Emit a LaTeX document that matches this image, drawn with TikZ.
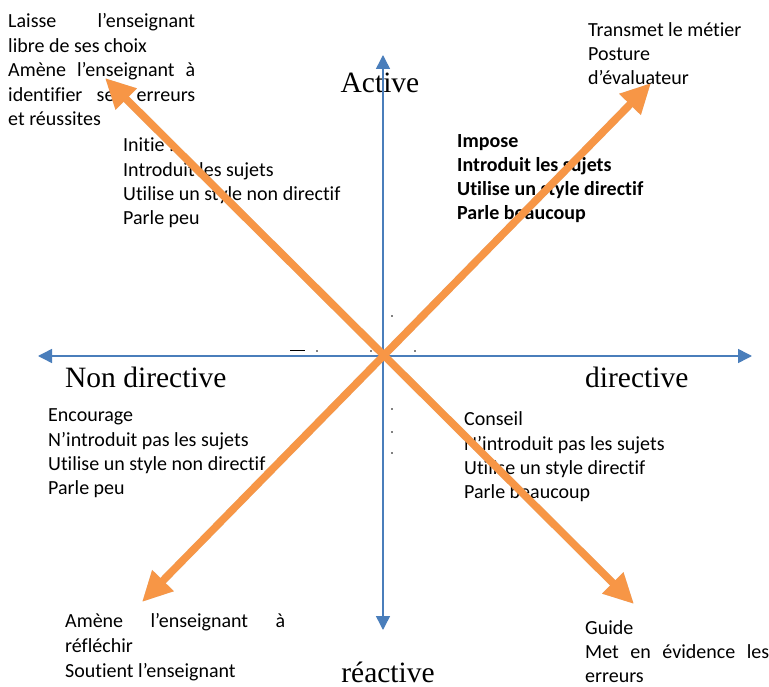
\documentclass[tikz,border=0pt]{standalone}
\usepackage{fontspec}
\setmainfont{Carlito}[Ligatures={NoCommon}]
\newfontfamily\axisfont{Liberation Serif}
\usetikzlibrary{arrows.meta}
\definecolor{axisblue}{HTML}{4A7EBB}
\definecolor{orng}{HTML}{F79646}
\newcommand\just[2]{\makebox[#1pt][s]{#2}}
\begin{document}
\begin{tikzpicture}[x=1pt,y=-1pt,
  txt/.style={anchor=base west,inner sep=0pt,font=\fontsize{20}{24}\selectfont},
  btxt/.style={txt,font=\fontsize{20}{24}\selectfont\bfseries},
  axlab/.style={inner sep=0pt,font=\fontsize{29.5}{32}\selectfont\axisfont},
  axis/.style={draw=axisblue,line width=1.5pt,{Triangle[length=14pt,width=14pt]}-{Triangle[length=14pt,width=14pt]}},
  bigarrow/.style={draw=orng,line width=7.5pt,{Triangle[length=30pt,width=28pt]}-{Triangle[length=30pt,width=28pt]}},
  shade/.style={draw=black!45,opacity=0.35,line width=7.5pt,{Triangle[length=30pt,width=28pt]}-{Triangle[length=30pt,width=28pt]},xshift=2pt,yshift=-2pt},
  speck/.style={fill=black,inner sep=0pt,minimum size=1.6pt,circle}
]
\useasboundingbox (0,0) rectangle (769,687);
\fill[white] (0,0) rectangle (769,687);

% top-left
\node[txt] (tl1) at (8,28) {\just{187}{Laisse l’enseignant}};
\node[txt] (tl2) at (8,52.5) {libre de ses choix};
\node[txt] (tl3) at (8,77) {\just{187}{Amène l’enseignant à}};
\node[txt] (tl4) at (8,101.5) {\just{187}{identifier ses erreurs}};
\node[txt] (tl5) at (8,126) {et réussites};

% top-right
\node[txt] (tr1) at (588,37) {Transmet le métier};
\node[txt] (tr2) at (588,61) {Posture};
\node[txt] (tr3) at (588,85) {d’évaluateur};

% upper-left quadrant
\node[txt] (ql1) at (123,152) {Initie :};
\node[txt] (ql2) at (123,177) {Introduit les sujets};
\node[txt] (ql3) at (123,201) {Utilise un style non directif};
\node[txt] (ql4) at (123,225) {Parle peu};

% upper-right quadrant
\node[btxt] (qr1) at (457,148) {Impose};
\node[btxt] (qr2) at (457,172) {Introduit les sujets};
\node[btxt] (qr3) at (457,196) {Utilise un style directif};
\node[btxt] (qr4) at (457,220) {Parle beaucoup};

% lower-left quadrant
\node[txt] (ll1) at (48,421) {Encourage};
\node[txt] (ll2) at (48,446) {N’introduit pas les sujets};
\node[txt] (ll3) at (48,470) {Utilise un style non directif};
\node[txt] (ll4) at (48,494) {Parle peu};

% lower-right quadrant
\node[txt] (lr1) at (464,425) {Conseil};
\node[txt] (lr2) at (464,450) {N’introduit pas les sujets};
\node[txt] (lr3) at (464,474) {Utilise un style directif};
\node[txt] (lr4) at (464,498) {Parle beaucoup};

% bottom-left
\node[txt] (bl1) at (65,627) {\just{220}{Amène l’enseignant à}};
\node[txt] (bl2) at (65,652) {réfléchir};
\node[txt] (bl3) at (65,677) {Soutient l’enseignant};

% bottom-right
\node[txt] (br1) at (585,634) {Guide};
\node[txt] (br2) at (585,658) {\just{184}{Met en évidence les}};
\node[txt] (br3) at (585,682) {erreurs};

% axis labels
\node[axlab,anchor=base] (act) at (380,93) {Active};
\node[axlab,anchor=base west] (nd) at (65,387) {Non directive};
\node[axlab,anchor=base west] (dir) at (585,387) {directive};
\node[axlab,anchor=base] (rea) at (388,682) {réactive};

% remnants of hidden text
\node[speck] (s1) at (392,316) {};
\node[speck] (s2) at (317,351) {};
\node[speck] (s3) at (371,351) {};
\node[speck] (s4) at (415,351) {};
\node[speck] (s5) at (392,409) {};
\node[speck] (s6) at (392,432) {};
\node[speck] (s7) at (392,453) {};
\coordinate (d1) at (290,350.5);
\coordinate (d2) at (305,350.5);
\draw[line width=0.9pt] (d1) -- (d2);

% axes
\coordinate (T) at (383,55);
\coordinate (B) at (383,630);
\coordinate (L) at (38,356);
\coordinate (R) at (752,356);
\draw[axis] (B) -- (T);
\draw[axis] (L) -- (R);

% orange arrows
\coordinate (a1) at (105,78);
\coordinate (a2) at (634,604);
\coordinate (b1) at (142,602);
\coordinate (b2) at (651,83);
\draw[shade] (a1) -- (a2);
\draw[shade] (b1) -- (b2);
\draw[bigarrow] (a1) -- (a2);
\draw[bigarrow] (b1) -- (b2);
\end{tikzpicture}
\end{document}
